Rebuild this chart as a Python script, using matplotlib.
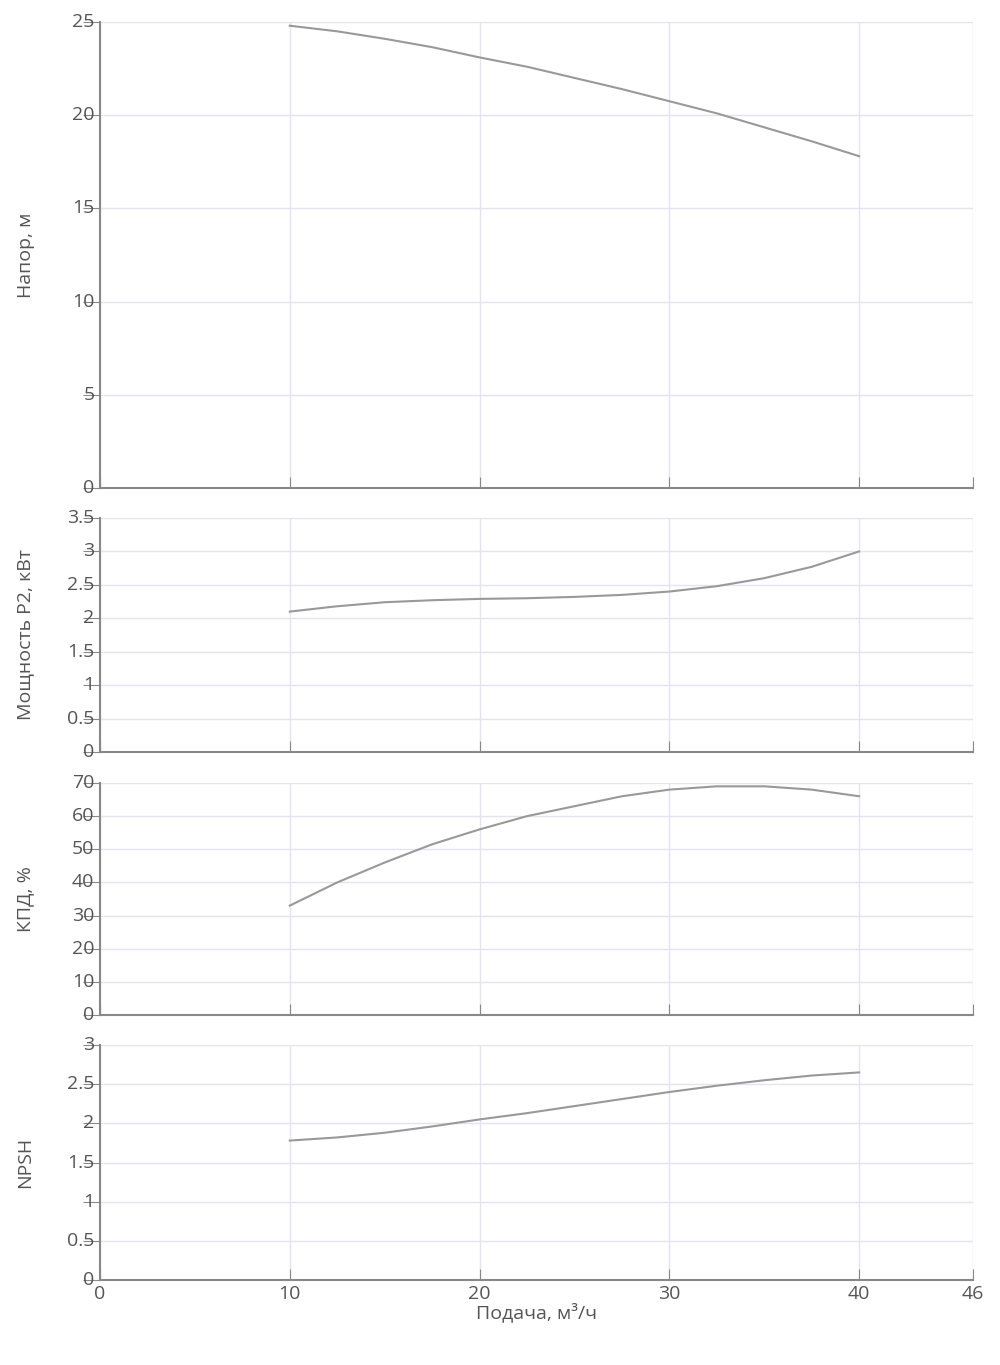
import matplotlib.pyplot as plt

q = [10, 12.5, 15, 17.5, 20, 22.5, 25, 27.5, 30, 32.5, 35, 37.5, 40]
head = [24.8, 24.5, 24.1, 23.65, 23.1, 22.6, 22.0, 21.4, 20.75, 20.1, 19.35, 18.6, 17.8]
power = [2.1, 2.18, 2.24, 2.27, 2.29, 2.3, 2.32, 2.35, 2.4, 2.48, 2.6, 2.77, 3.0]
eff = [33, 40, 46, 51.5, 56, 60, 63, 66, 68, 69, 69, 68, 66]
npsh = [1.78, 1.82, 1.88, 1.96, 2.05, 2.13, 2.22, 2.31, 2.4, 2.48, 2.55, 2.61, 2.65]

panels = [
    (head, 'Напор, м', [0, 5, 10, 15, 20, 25], ['0', '5', '10', '15', '20', '25'], 25),
    (power, 'Мощность P2, кВт', [0, 0.5, 1, 1.5, 2, 2.5, 3, 3.5],
     ['0', '0.5', '1', '1.5', '2', '2.5', '3', '3.5'], 3.5),
    (eff, 'КПД, %', [0, 10, 20, 30, 40, 50, 60, 70],
     ['0', '10', '20', '30', '40', '50', '60', '70'], 70),
    (npsh, 'NPSH', [0, 0.5, 1, 1.5, 2, 2.5, 3], ['0', '0.5', '1', '1.5', '2', '2.5', '3'], 3),
]
# (top, bottom) in pixels
boxes = [(22, 488), (518, 752), (783, 1015), (1045, 1280)]

plt.rcParams['font.family'] = ['Open Sans', 'DejaVu Sans']
fig = plt.figure(figsize=(10, 13.65), dpi=100)
H = 1365.0
for (y, lab, ticks, tlabs, top), (t, b) in zip(panels, boxes):
    ax = fig.add_axes([0.1, 1 - b / H, 0.873, (b - t) / H])
    ax.plot(q, y, color='#999999', lw=1.5)
    ax.set_xlim(0, 46)
    ax.set_ylim(0, top)
    ax.set_xticks([0, 10, 20, 30, 40, 46])
    ax.set_yticks(ticks)
    ax.set_yticklabels(tlabs, va='center')
    for tl in ax.get_yticklabels():
        tl.set_y(0)
    ax.grid(True, color='#e4e4f0', lw=1)
    for s in ['top', 'right']:
        ax.spines[s].set_visible(False)
    for s in ['left', 'bottom']:
        ax.spines[s].set_color('#888888')
        ax.spines[s].set_linewidth(1.5)
    ax.tick_params(axis='y', length=12, color='#888888', labelsize=14, labelcolor='#555555', pad=-8)
    ax.tick_params(axis='x', length=8, color='#888888', direction='in', labelsize=14, labelcolor='#555555')
    ax.set_ylabel(lab, fontsize=14, color='#555555')
    ax.yaxis.set_label_coords(-0.075, 0.5)
    if b != 1280:
        ax.set_xticklabels([])
    else:
        ax.set_xlabel('Подача, м³/ч', fontsize=14, color='#555555', labelpad=0)
fig.savefig('out.png')
